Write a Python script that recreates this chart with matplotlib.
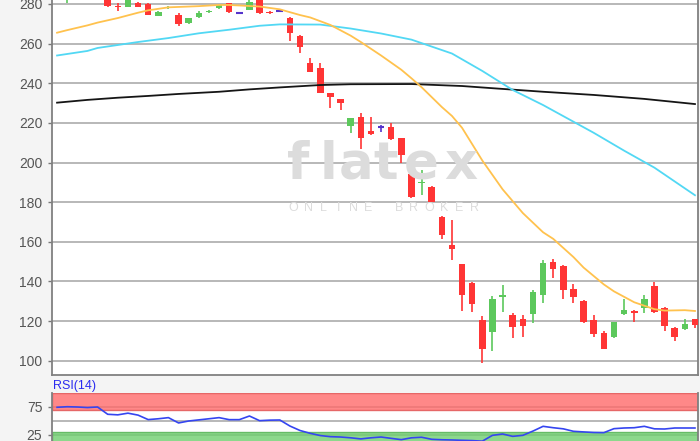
import matplotlib
matplotlib.use("Agg")
import matplotlib.pyplot as plt
from matplotlib.lines import Line2D
import numpy as np

# daily candles, day index 0..63 (first five sit above the visible range)
opens = [286, 283, 287, 284, 289, 283, 279.1, 278.6, 280.3, 279.8,
         274.1, 277.8, 274.4, 270.6, 273.6, 275.8, 277.8, 280.3, 275.3, 277.0,
         283, 276.1, 276.6, 273.0, 263.9, 250.1, 247.6, 234.9, 231.9, 218.4,
         222.8, 216.1, 217.8, 218.1, 212.2, 194.1, 189.5, 187.8, 172.7, 158.4,
         148.8, 139.1, 120.5, 114.6, 132.3, 123.1, 121.0, 123.6, 133.2, 150.0,
         147.8, 136.0, 130.3, 120.5, 114.1, 112.1, 123.4, 125.2, 126.7, 137.7,
         126.4, 116.3, 115.8, 121.0]
highs = [290, 286, 288, 289, 290, 284, 280.3, 283, 281, 280.5,
         276.3, 278.8, 275.3, 273.0, 276.5, 277.0, 279.7, 280.5, 275.8, 282,
         284, 276.3, 277.0, 273.5, 264.1, 252.6, 250.1, 235.1, 232.1, 222.5,
         225.1, 222.8, 219.0, 219.8, 212.4, 194.3, 196.2, 188.0, 173.0, 171.0,
         149.0, 139.6, 122.6, 132.6, 138.2, 123.9, 123.1, 135.7, 150.8, 151.2,
         148.5, 138.7, 130.5, 123.1, 115.1, 119.6, 131.0, 125.4, 133.2, 139.9,
         127.0, 117.0, 120.9, 121.3]
lows = [284, 280.6, 283, 283, 284, 278.3, 276.5, 278.4, 278.4, 274.2,
        273.9, 277.6, 268.9, 269.9, 272.8, 275.3, 277.6, 275.6, 275.0, 276.8,
        275.0, 275.1, 276.2, 261.5, 255.4, 245.8, 235.0, 227.4, 226.5, 215.1,
        206.7, 213.9, 215.6, 211.5, 199.9, 182.3, 183.6, 180.0, 161.3, 150.8,
        125.2, 124.7, 99.0, 105.0, 124.7, 111.3, 112.1, 118.9, 129.3, 141.9,
        131.0, 129.3, 118.9, 112.1, 105.8, 111.6, 123.2, 119.7, 124.2, 124.2,
        115.1, 110.1, 115.5, 116.3]
closes = [289, 285, 284, 288, 285, 279.0, 278.3, 282.0, 278.6, 274.4,
          276.1, 278.6, 269.8, 272.8, 275.3, 276.5, 279.5, 275.8, 275.3, 281.2,
          275.3, 275.3, 276.6, 265.5, 258.1, 245.8, 235.2, 233.2, 229.9, 222.3,
          212.5, 214.4, 217.8, 211.7, 203.8, 182.5, 190.3, 180.2, 163.4, 156.2,
          133.2, 128.6, 105.8, 131.0, 133.2, 116.9, 117.5, 134.8, 149.1, 146.1,
          135.7, 132.0, 119.7, 113.5, 105.8, 119.4, 125.6, 124.2, 131.0, 124.7,
          117.5, 112.1, 118.4, 118.0]

# moving averages (day index, value)
ma_short_days = [0, 1, 3, 4, 6, 8, 9, 11, 14, 16, 17, 20, 22, 24, 25, 27, 29, 30, 32,
                 34, 35, 36, 38, 39, 40, 42, 44, 46, 48, 49, 51, 52, 54, 55, 57, 59,
                 60, 62, 63]
ma_short = [265.5, 266.8, 269.2, 270.6, 272.9, 275.6, 276.8, 278.3, 278.9, 279.5,
            279.5, 278.7, 277.3, 274.4, 273.2, 269.4, 264.0, 260.8, 254.0, 246.8,
            242.5, 238.0, 228.0, 223.5, 217.5, 201.0, 186.5, 174.5, 164.8, 161.5,
            152.3, 147.0, 138.5, 135.0, 129.5, 126.0, 125.3, 125.5, 125.1]
ma_mid_days = [0, 3, 4, 8, 11, 14, 17, 20, 22, 26, 29, 32, 35, 39, 42, 45, 48, 51,
               53, 56, 59, 63]
ma_mid = [254.0, 256.3, 257.8, 260.8, 262.8, 265.2, 267.0, 269.0, 269.7, 269.6,
          267.6, 265.1, 262.0, 255.0, 246.2, 236.6, 229.0, 220.6, 215.0, 206.0,
          197.4, 183.5]
ma_long_days = [0, 3, 6, 9, 12, 16, 19, 22, 26, 29, 35, 40, 43, 48, 53, 58, 63]
ma_long = [230.2, 231.6, 232.7, 233.6, 234.6, 235.7, 236.9, 237.9, 239.1, 239.5,
           239.6, 238.6, 237.5, 235.7, 234.1, 232.1, 229.5]

# RSI(14), one value per day
rsi = [74.5, 75.5, 75, 74, 75, 62, 61, 64, 60.5, 52.5,
       54, 56, 46.5, 50, 52, 54, 56, 52.4, 52.4, 58.9,
       50.6, 51.5, 51.8, 41, 33, 28, 24, 22, 21.4, 20,
       18, 20, 21.4, 19, 16.7, 20, 21, 17.3, 16.5, 16.1,
       15.5, 15, 14, 24.4, 26.8, 22.6, 24.4, 32, 40.5, 38,
       36, 31.6, 30.5, 29.5, 29.2, 36.3, 37.5, 38, 40.5, 36,
       35.7, 37.5, 37.5, 37.5]

price_ticks = list(range(100, 281, 20))

W, H = 700, 441
plt.rcParams['font.family'] = ['Liberation Sans', 'DejaVu Sans']
fig = plt.figure(figsize=(W / 100, H / 100), dpi=100, facecolor='#f4f4f4')

# main price panel
ax = fig.add_axes([52 / W, (H - 375) / H, 646 / W, 375 / H])
ax.set_facecolor('white')
ax.set_xlim(-0.5, 63.3)
ax.set_ylim(92.8, 282.0)
ax.set_yticks(price_ticks)
ax.set_xticks([])
ax.yaxis.grid(True, color='#ababab', lw=1.2)
ax.set_axisbelow(True)
ax.tick_params(axis='y', length=3, width=1, color='#777777', labelcolor='#555555',
               labelsize=10, pad=4)
for side in ['left', 'right', 'bottom']:
    ax.spines[side].set_color('#808080')
    ax.spines[side].set_linewidth(1.3)
ax.spines['top'].set_visible(False)

# watermark
wm_col = '#dcdcdc'
letters = 'flatex'
letter_px = [298, 329, 356, 386, 421, 461]
for ch, px in zip(letters, letter_px):
    fig.text(px / W, 1 - 179 / H, ch, fontsize=37, color=wm_col, weight='bold',
             family='DejaVu Sans', ha='center', va='baseline', zorder=0)
fig.add_artist(Line2D([262 / W, 292 / W], [1 - 155 / H, 1 - 155 / H], color=wm_col,
                      lw=5.5, solid_capstyle='round', zorder=0))
sub = 'ONLINE BROKER'
for k, ch in enumerate(sub):
    fig.text((293 + k * 15.1) / W, 1 - 211 / H, ch, fontsize=9, color='#dcdcdc',
             ha='center', va='baseline', zorder=0)

days = np.arange(len(opens))
o = np.array(opens)
c = np.array(closes)
cols = np.where(c > o, '#5cc85c', np.where(c < o, '#ff3535', '#5533cc'))

ax.vlines(days, lows, highs, colors=cols, lw=1.2, zorder=3)
body = c != o
ax.bar(days[body], np.abs(c - o)[body], bottom=np.minimum(o, c)[body], width=0.65,
       color=cols[body], zorder=4)
ax.hlines(o[~body], days[~body] - 0.33, days[~body] + 0.33, colors='#5533cc', lw=1.5,
          zorder=4)

ax.plot(ma_long_days, ma_long, color='#151515', lw=1.3, zorder=5)
ax.plot(ma_mid_days, ma_mid, color='#52d8f4', lw=1.3, zorder=5)
ax.plot(ma_short_days, ma_short, color='#ffc24e', lw=1.3, zorder=5)

# RSI panel
rax = fig.add_axes([52 / W, (H - 393 - 56) / H, 646 / W, 56 / H])
rax.set_facecolor('white')
rax.set_xlim(-0.5, 63.3)
rax.set_ylim(0, 100)
rax.set_xticks([])
rax.set_yticks([25, 75])
rax.tick_params(axis='y', length=3, width=1, color='#777777', labelcolor='#555555',
                labelsize=10, pad=4)
for y in [25, 50, 75]:
    rax.axhline(y, color='#ababab', lw=1.2, zorder=1)
rax.axhspan(70, 100, facecolor='#ff6b6b', edgecolor='#e05050', alpha=0.8, lw=1, zorder=2)
rax.axhspan(0, 30, facecolor='#6fcf6f', edgecolor='#50b050', alpha=0.8, lw=1, zorder=2)
rax.plot(days, rsi, color='#3545f0', lw=1.2, zorder=3)
for side in ['left', 'right']:
    rax.spines[side].set_color('#808080')
    rax.spines[side].set_linewidth(1.3)
rax.spines['top'].set_visible(False)
rax.spines['bottom'].set_visible(False)
fig.text(53 / W, 1 - 389 / H, 'RSI(14)', fontsize=9, color='#2b2bf0', ha='left',
         va='baseline')

fig.savefig('out.png', dpi=100, facecolor=fig.get_facecolor())
